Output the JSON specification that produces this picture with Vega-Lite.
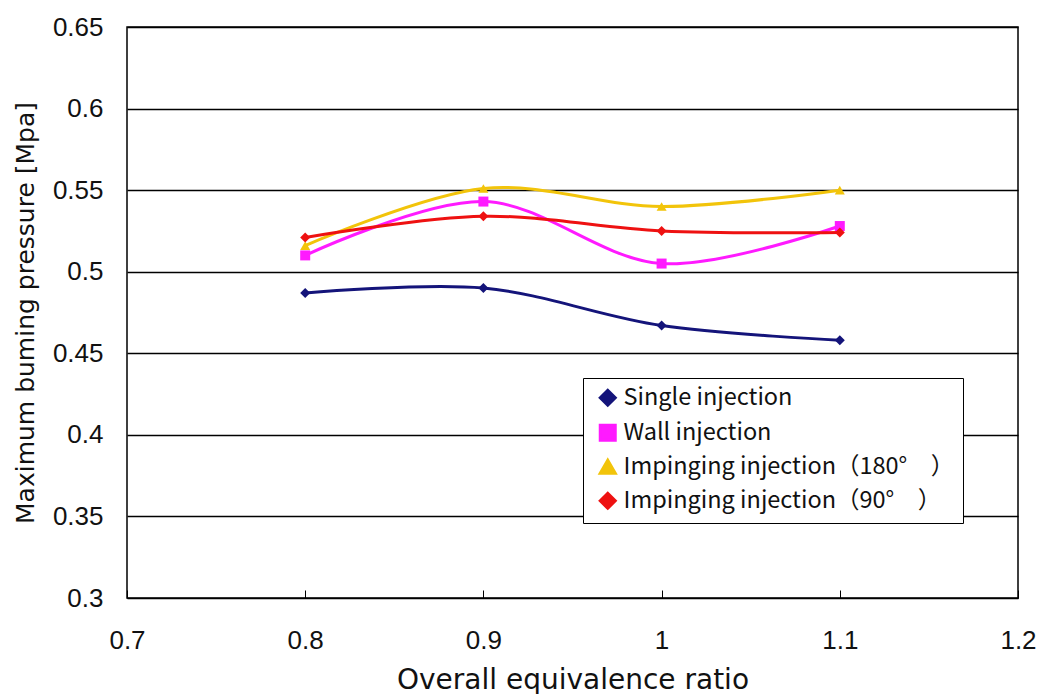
{
  "$schema": "https://vega.github.io/schema/vega-lite/v6.json",
  "width": 891,
  "height": 571,
  "autosize": {"type": "none"},
  "padding": {"left": 127, "top": 27, "right": 23, "bottom": 96},
  "background": "white",
  "config": {
    "view": {"stroke": "black", "strokeWidth": 1.5},
    "font": "Liberation Sans"
  },
  "data": {
    "values": [
      {"phi": 0.8, "p": 0.487, "series": "Single injection"},
      {"phi": 0.9, "p": 0.490, "series": "Single injection"},
      {"phi": 1.0, "p": 0.467, "series": "Single injection"},
      {"phi": 1.1, "p": 0.458, "series": "Single injection"},
      {"phi": 0.8, "p": 0.510, "series": "Wall injection"},
      {"phi": 0.9, "p": 0.543, "series": "Wall injection"},
      {"phi": 1.0, "p": 0.505, "series": "Wall injection"},
      {"phi": 1.1, "p": 0.528, "series": "Wall injection"},
      {"phi": 0.8, "p": 0.516, "series": "Impinging injection（180°　）"},
      {"phi": 0.9, "p": 0.551, "series": "Impinging injection（180°　）"},
      {"phi": 1.0, "p": 0.540, "series": "Impinging injection（180°　）"},
      {"phi": 1.1, "p": 0.550, "series": "Impinging injection（180°　）"},
      {"phi": 0.8, "p": 0.521, "series": "Impinging injection（90°　）"},
      {"phi": 0.9, "p": 0.534, "series": "Impinging injection（90°　）"},
      {"phi": 1.0, "p": 0.525, "series": "Impinging injection（90°　）"},
      {"phi": 1.1, "p": 0.524, "series": "Impinging injection（90°　）"}
    ]
  },
  "encoding": {
    "x": {
      "field": "phi", "type": "quantitative",
      "scale": {"domain": [0.7, 1.2], "nice": false, "zero": false},
      "axis": {
        "title": "Overall equivalence ratio",
        "values": [0.7, 0.8, 0.9, 1.0, 1.1, 1.2],
        "format": ".1~f",
        "grid": false,
        "domain": false,
        "tickSize": -8,
        "tickColor": "black",
        "labelFontSize": 26,
        "labelColor": "#111111",
        "labelPadding": 37,
        "titleFont": "DejaVu Sans",
        "titleFontSize": 28,
        "titleFontWeight": "normal",
        "titleColor": "#111111",
        "titlePadding": 13,
        "labelFlush": false
      }
    },
    "y": {
      "field": "p", "type": "quantitative",
      "scale": {"domain": [0.3, 0.65], "nice": false, "zero": false},
      "axis": {
        "title": "Maximum buming pressure [Mpa]",
        "values": [0.3, 0.35, 0.4, 0.45, 0.5, 0.55, 0.6, 0.65],
        "format": ".2~f",
        "grid": true,
        "gridColor": "black",
        "gridWidth": 1.5,
        "gridOpacity": 1,
        "domain": false,
        "ticks": false,
        "labelFontSize": 26,
        "labelColor": "#111111",
        "labelPadding": 24,
        "titleFont": "DejaVu Sans",
        "titleFontSize": 25,
        "titleFontWeight": "normal",
        "titleColor": "#111111",
        "titleX": -102,
        "titleBaseline": "middle",
        "labelFlush": false
      }
    }
  },
  "layer": [
    {
      "mark": {"type": "line", "interpolate": "catmull-rom", "strokeWidth": 3},
      "encoding": {
        "color": {
          "field": "series", "type": "nominal",
          "scale": {
            "domain": ["Single injection", "Wall injection", "Impinging injection（180°　）", "Impinging injection（90°　）"],
            "range": ["#14147a", "#ff1aff", "#f2c40a", "#ee1111"]
          },
          "legend": {
            "title": null,
            "orient": "none",
            "legendX": 456,
            "legendY": 351,
            "fillColor": "white",
            "strokeColor": "black",
            "padding": 8,
            "labelFontSize": 23.5,
            "labelFont": "Noto Sans CJK JP",
            "labelColor": "#111111",
            "labelLimit": 500,
            "symbolSize": 225,
            "symbolOffset": 5,
            "labelOffset": 4,
            "rowPadding": 7,
            "symbolStrokeWidth": 3
          }
        }
      }
    },
    {
      "mark": {"type": "point", "filled": true, "size": 100, "opacity": 1},
      "encoding": {
        "color": {"field": "series", "type": "nominal", "legend": null},
        "shape": {
          "field": "series", "type": "nominal",
          "scale": {
            "domain": ["Single injection", "Wall injection", "Impinging injection（180°　）", "Impinging injection（90°　）"],
            "range": ["diamond", "square", "triangle-up", "diamond"]
          },
          "legend": null
        }
      }
    }
  ]
}
